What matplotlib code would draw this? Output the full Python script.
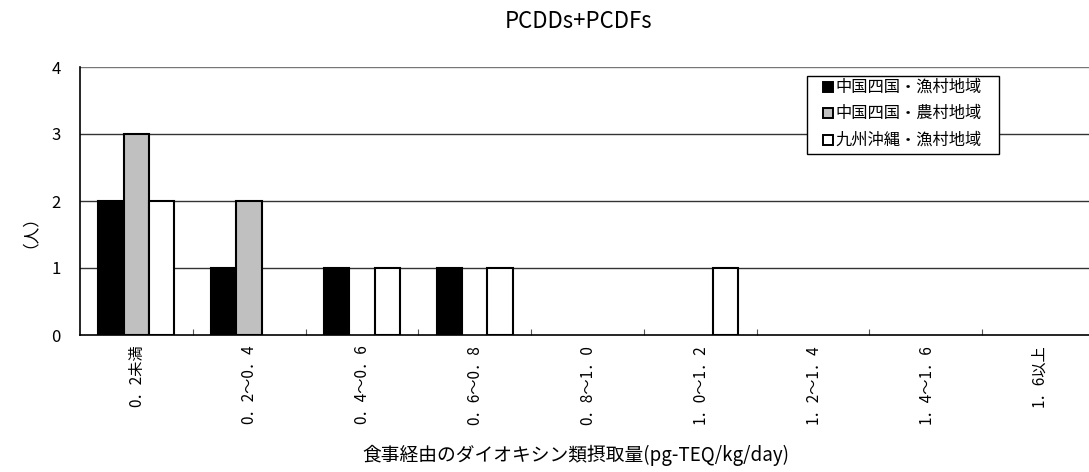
import matplotlib
matplotlib.use("Agg")
import matplotlib.pyplot as plt
import numpy as np
from matplotlib.lines import Line2D
from matplotlib.patches import Rectangle

plt.rcParams['font.family'] = ['Noto Sans CJK JP', 'DejaVu Sans']

categories = ["0．2未満", "0．2～0．4", "0．4～0．6", "0．6～0．8", "0．8～1．0",
              "1．0～1．2", "1．2～1．4", "1．4～1．6", "1．6以上"]
series_names = ["中国四国・漁村地域", "中国四国・農村地域", "九州沖縄・漁村地域"]
chugoku_gyoson = [2, 1, 1, 1, 0, 0, 0, 0, 0]
chugoku_noson = [3, 2, 0, 0, 0, 0, 0, 0, 0]
kyushu_gyoson = [2, 0, 1, 1, 0, 1, 0, 0, 0]
series_values = [chugoku_gyoson, chugoku_noson, kyushu_gyoson]
colors = ["#000000", "#c0c0c0", "#ffffff"]
yticks = [0, 1, 2, 3, 4]

W, H = 1089, 472
fig = plt.figure(figsize=(W / 100, H / 100), dpi=100)
left, right, top, bottom = 80, 1094.75, 67, 335
ax = fig.add_axes([left / W, 1 - bottom / H, (right - left) / W, (bottom - top) / H])

x = np.arange(len(categories))
bw = 0.225
for i, (vals, c) in enumerate(zip(series_values, colors)):
    bars = ax.bar(x + (i - 1) * bw, vals, width=bw, color=c, edgecolor="black",
                  linewidth=1.5, zorder=3)
    for b, v in zip(bars, vals):
        if v == 0:
            b.set_linewidth(0)

ax.set_xlim(-0.5, len(categories) - 0.5)
ax.set_ylim(0, 4)
ax.set_yticks(yticks)
ax.set_yticklabels([str(t) for t in yticks], fontsize=12)
ax.tick_params(axis='y', length=0, pad=14)
for t in yticks[1:]:
    ax.axhline(t, color="#333333" if t < 4 else "#777777", linewidth=1.0, zorder=1)

ax.set_xticks(x)
ax.set_xticklabels(categories, rotation=90, fontsize=11)
ax.tick_params(axis='x', which='major', length=0, pad=7)
ax.set_xticks(np.arange(0.5, len(categories) - 0.5, 1.0), minor=True)
ax.tick_params(axis='x', which='minor', direction='in', length=4, width=0.8, color="#555555")

for s in ["top", "right"]:
    ax.spines[s].set_visible(False)
ax.spines["left"].set_linewidth(1.2)
ax.spines["bottom"].set_linewidth(1.2)
ax.spines["left"].set_zorder(4)
ax.spines["bottom"].set_zorder(4)

# legend (drawn in figure pixel coordinates)
lx0, ly0, lx1, ly1 = 807, 76, 999, 154
fig.add_artist(Rectangle((lx0 / W, 1 - ly1 / H), (lx1 - lx0) / W, (ly1 - ly0) / H,
                         transform=fig.transFigure, facecolor="white",
                         edgecolor="black", linewidth=1.0, zorder=10))
row_y = [87, 113, 140]
for name, c, ry in zip(series_names, colors, row_y):
    fig.add_artist(Line2D([827.5 / W], [1 - ry / H], transform=fig.transFigure,
                          marker='s', linestyle='none', markersize=6.5,
                          markerfacecolor=c, markeredgecolor="black",
                          markeredgewidth=1.4, zorder=11))
    fig.text(835 / W, 1 - ry / H, name, fontsize=11.7, ha="left", va="center",
             zorder=11)

fig.text(579 / W, 1 - 21 / H, "PCDDs+PCDFs", fontsize=16, ha="center", va="center")
fig.text(21 / W, 1 - 223 / H, "（人）", fontsize=12, rotation=90, ha="center", va="center")
fig.text(576 / W, 1 - 455 / H, "食事経由のダイオキシン類摂取量(pg-TEQ/kg/day)",
         fontsize=13.5, ha="center", va="center")

fig.savefig("out.png", dpi=100)
